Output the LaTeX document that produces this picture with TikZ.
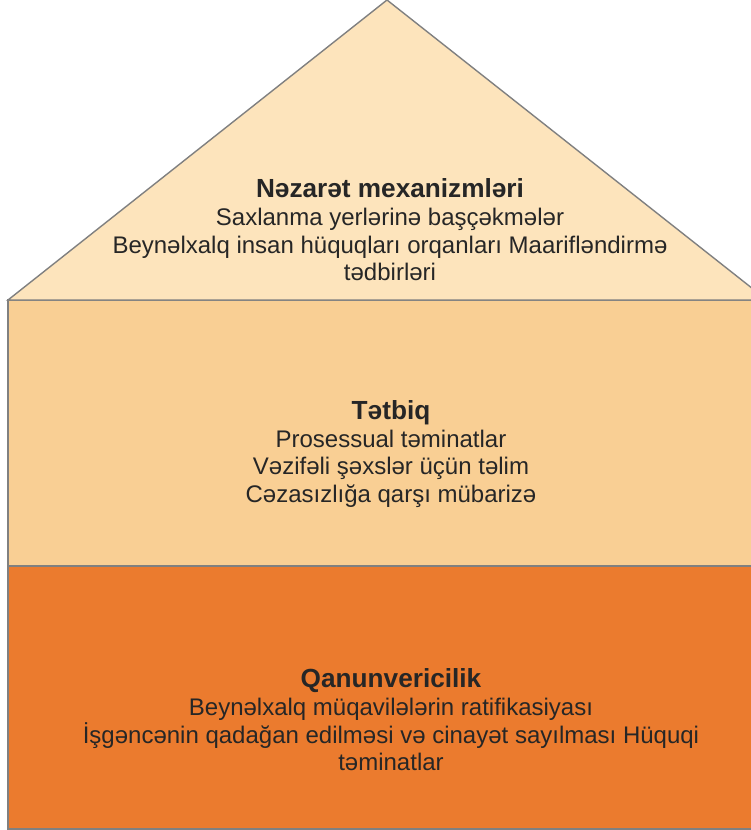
\documentclass[tikz,border=0pt]{standalone}
\usepackage{fontspec}
\setmainfont{Liberation Sans}
\definecolor{roofc}{HTML}{FDE4BC}
\definecolor{midc}{HTML}{F9CF94}
\definecolor{botc}{HTML}{EB7B2E}
\definecolor{edgec}{HTML}{808080}
\definecolor{txtc}{HTML}{262626}
\tikzset{
  part/.style={draw=edgec, line width=1.4pt},
  lbl/.style={align=center, text=txtc, font=\fontsize{24}{27.7}\selectfont, inner sep=0pt},
}
\newcommand{\ttl}[1]{{\fontsize{26.2}{27.7}\selectfont\bfseries #1}}
\begin{document}
\begin{tikzpicture}[x=1pt,y=-1pt]
\useasboundingbox (0,0) rectangle (750,830);
\fill[white] (0,0) rectangle (750,830);
\path[part, fill=botc] (8,566) rectangle (767,829);
\path[part, fill=midc] (8,300) rectangle (767,566);
\path[part, fill=roofc] (8,300) -- (387,0) -- (767,300) -- cycle;
\node[lbl] (roof) at (390,230) {\ttl{Nəzarət mexanizmləri}\\Saxlanma yerlərinə başçəkmələr\\Beynəlxalq insan hüquqları orqanları Maarifləndirmə\\tədbirləri};
\node[lbl] (mid) at (391,454) {\ttl{Tətbiq}\\Prosessual təminatlar\\Vəzifəli şəxslər üçün təlim\\Cəzasızlığa qarşı mübarizə};
\node[lbl] (bot) at (391,720) {\ttl{Qanunvericilik}\\Beynəlxalq müqavilələrin ratifikasiyası\\İşgəncənin qadağan edilməsi və cinayət sayılması Hüquqi\\təminatlar};
\end{tikzpicture}
\end{document}
